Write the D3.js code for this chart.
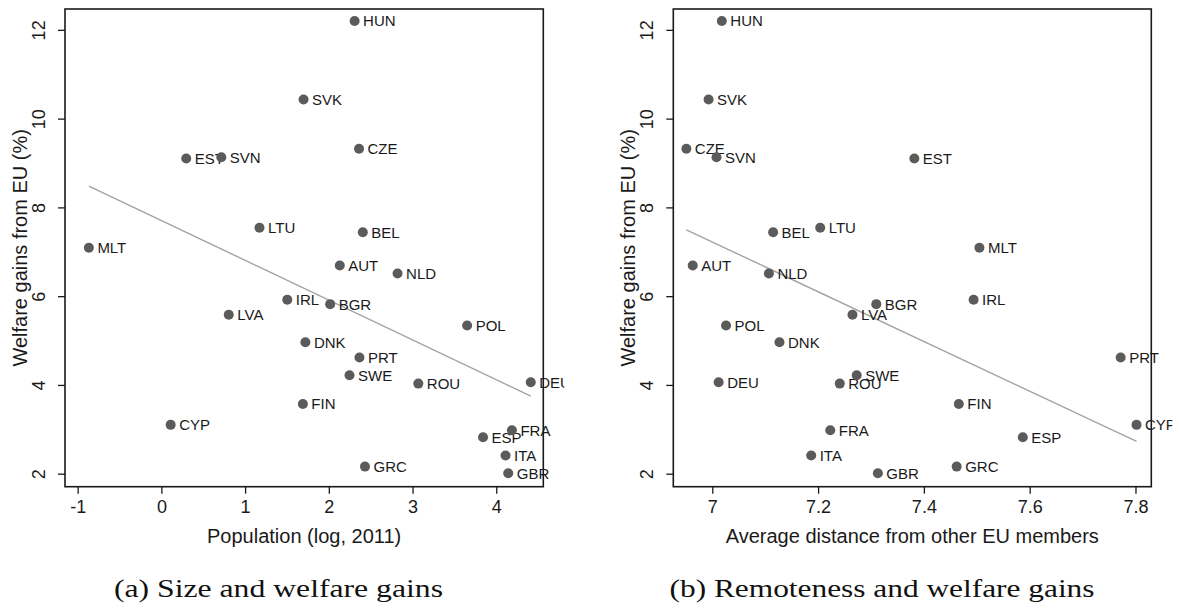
<!DOCTYPE html>
<html>
<head>
<meta charset="utf-8">
<script src="https://cdn.jsdelivr.net/npm/d3@7"></script>
<style>
  html, body { margin: 0; padding: 0; background: #fff; }
  svg { display: block; }
</style>
</head>
<body>
<svg id="chart" width="1179" height="610"></svg>
<script>
// ---- data ----
const countries = ["HUN","SVK","CZE","EST","SVN","LTU","BEL","MLT","AUT","NLD","IRL","BGR","LVA",
                   "POL","DNK","PRT","SWE","ROU","DEU","FIN","CYP","FRA","ESP","ITA","GRC","GBR"];
const welfareGains = [12.20,10.43,9.32,9.10,9.13,7.54,7.44,7.09,6.69,6.51,5.92,5.82,5.58,
                      5.34,4.96,4.62,4.22,4.03,4.06,3.57,3.10,2.98,2.82,2.41,2.16,2.01];
const popLog = [2.308,1.698,2.361,0.297,0.716,1.172,2.406,-0.866,2.131,2.821,1.504,2.016,0.805,
                3.652,1.720,2.366,2.247,3.069,4.412,1.690,0.111,4.187,3.842,4.111,2.432,4.143];
const avgDistance = [7.018,6.993,6.951,7.382,7.008,7.204,7.115,7.505,6.963,7.107,7.494,7.310,7.265,
                     7.026,7.127,7.772,7.273,7.241,7.012,7.466,7.802,7.223,7.587,7.187,7.462,7.313];
// fitted line [intercept, slope]
const fitSize = [7.705, -0.897];
const fitRemote = [46.42, -5.60];
const xTicksSize = [-1, 0, 1, 2, 3, 4];
const xTickLabelsSize = ["-1", "0", "1", "2", "3", "4"];
const xTicksRemote = [7, 7.2, 7.4, 7.6, 7.8];
const xTickLabelsRemote = ["7", "7.2", "7.4", "7.6", "7.8"];
const yTicks = [2, 4, 6, 8, 10, 12];
const yTickLabels = ["2", "4", "6", "8", "10", "12"];
const xTitles = ["Population (log, 2011)", "Average distance from other EU members"];
const yTitle = "Welfare gains from EU (%)";
const captions = ["(a) Size and welfare gains", "(b) Remoteness and welfare gains"];

// ---- drawing ----
const svg = d3.select("#chart");
const SANS = "'Liberation Sans', Arial, Helvetica, sans-serif";
const SERIF = "'Liberation Serif', 'Times New Roman', serif";

const panels = [
  { x0: 65, x1: 543.3, domain: [-1.1512, 4.5618], xs: popLog, fit: fitSize,
    ticks: xTicksSize, tickLabels: xTickLabelsSize, title: xTitles[0],
    caption: captions[0], capX: 278.5, capW: 329 },
  { x0: 673.3, x1: 1151.3, domain: [6.9263, 7.8299], xs: avgDistance, fit: fitRemote,
    ticks: xTicksRemote, tickLabels: xTickLabelsRemote, title: xTitles[1],
    caption: captions[1], capX: 882, capW: 425 }
];
const yTop = 9, yBot = 486.7;

panels.forEach((p, pi) => {
  const x = d3.scaleLinear().domain(p.domain).range([p.x0, p.x1]);
  const y = d3.scaleLinear().domain([1.707, 12.47]).range([yBot, yTop]);
  const g = svg.append("g");

  const clipId = "clip" + pi;
  svg.append("clipPath").attr("id", clipId)
    .append("rect").attr("x", p.x0).attr("y", yTop).attr("width", p.x1 - p.x0 + 21).attr("height", yBot - yTop);

  // fit line
  const xe = d3.extent(p.xs);
  g.append("line")
    .attr("x1", x(xe[0])).attr("y1", y(p.fit[0] + p.fit[1] * xe[0]))
    .attr("x2", x(xe[1])).attr("y2", y(p.fit[0] + p.fit[1] * xe[1]))
    .attr("stroke", "#a3a3a3").attr("stroke-width", 1.4);

  const data = countries.map((c, i) => ({ c, xv: p.xs[i], yv: welfareGains[i] }));
  const pts = g.append("g").attr("clip-path", `url(#${clipId})`);
  pts.selectAll("text.lab").data(data).enter().append("text")
    .attr("class", "lab")
    .attr("x", d => x(d.xv) + 8.5)
    .attr("y", d => y(d.yv) + 5.4)
    .attr("font-family", SANS).attr("font-size", 15).attr("fill", "#1a1a1a")
    .text(d => d.c);
  pts.selectAll("circle").data(data).enter().append("circle")
    .attr("cx", d => x(d.xv)).attr("cy", d => y(d.yv)).attr("r", 5)
    .attr("fill", "#5b5b5b");

  // frame
  g.append("rect").attr("x", p.x0).attr("y", yTop).attr("width", p.x1 - p.x0).attr("height", yBot - yTop)
    .attr("fill", "none").attr("stroke", "#1a1a1a").attr("stroke-width", 1.6);

  // x axis
  const xAxis = d3.axisBottom(x).tickValues(p.ticks).tickSize(7).tickSizeOuter(0)
    .tickFormat((d, i) => p.tickLabels[i]);
  const xa = g.append("g").attr("transform", `translate(0,${yBot})`).call(xAxis);
  xa.select(".domain").remove();
  xa.selectAll(".tick line").attr("stroke", "#1a1a1a").attr("stroke-width", 1.3);
  xa.selectAll(".tick text").attr("font-family", SANS).attr("font-size", 18).attr("fill", "#1a1a1a")
    .attr("dy", null).attr("y", 26.5);

  // y axis
  const yAxis = d3.axisLeft(y).tickValues(yTicks).tickSize(7).tickSizeOuter(0)
    .tickFormat((d, i) => yTickLabels[i]);
  const ya = g.append("g").attr("transform", `translate(${p.x0},0)`).call(yAxis);
  ya.select(".domain").remove();
  ya.selectAll(".tick line").attr("stroke", "#1a1a1a").attr("stroke-width", 1.3);
  ya.selectAll(".tick text").attr("font-family", SANS).attr("font-size", 18).attr("fill", "#1a1a1a")
    .attr("dy", null).attr("x", null).attr("text-anchor", "middle")
    .attr("transform", "translate(-20.3,0) rotate(-90)");

  // titles
  g.append("text").attr("x", (p.x0 + p.x1) / 2).attr("y", 543).attr("text-anchor", "middle")
    .attr("font-family", SANS).attr("font-size", 20).attr("fill", "#1a1a1a").text(p.title);
  g.append("text").attr("transform", `translate(${p.x0 - 38.3},${(yTop + yBot) / 2}) rotate(-90)`)
    .attr("text-anchor", "middle")
    .attr("font-family", SANS).attr("font-size", 20).attr("fill", "#1a1a1a").text(yTitle);

  // caption
  g.append("text").attr("x", p.capX - p.capW / 2).attr("y", 597)
    .attr("font-family", SERIF).attr("font-size", 25).attr("fill", "#111")
    .attr("textLength", p.capW).attr("lengthAdjust", "spacingAndGlyphs")
    .text(p.caption);
});
</script>
</body>
</html>
